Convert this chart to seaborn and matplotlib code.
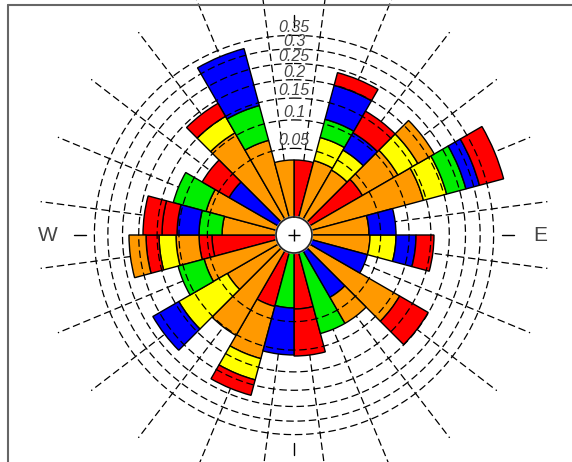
import numpy as np
import matplotlib
matplotlib.use("Agg")
import matplotlib.pyplot as plt
import seaborn as sns
from matplotlib.lines import Line2D
from matplotlib.patches import Circle

# ---------------- data ----------------
direction_deg = [0, 15, 30, 45, 60, 75, 90, 105, 120, 135, 150, 165,
                 180, 195, 210, 225, 240, 255, 270, 285, 300, 315, 330, 345]

ring_values = [0.05, 0.1, 0.15, 0.2, 0.25, 0.3, 0.35]
ring_labels = ["0.05", "0.1", "0.15", "0.2", "0.25", "0.3", "0.35"]
compass_labels = ["E", "W"]
compass_deg = [90, 270]
tick_deg = [0, 90, 180, 270]

# stacked classes (inner -> outer), one value per direction sector
red_a    = [0.0345, 0, 0, 0.0395, 0, 0, 0, 0, 0, 0, 0, 0.0333,
            0, 0.0333, 0, 0, 0, 0.0435, 0, 0, 0, 0, 0, 0]
red_b    = [0, 0, 0, 0, 0, 0, 0, 0, 0, 0, 0, 0.0793,
            0, 0, 0, 0, 0, 0.0194, 0, 0, 0, 0, 0, 0]
orange_a = [0, 0.037, 0.0345, 0.0709, 0.1428, 0.0345, 0.0357, 0, 0.1148, 0, 0, 0,
            0, 0.0951, 0.1019, 0.0369, 0.0597, 0.0432, 0.0309, 0.0565, 0, 0.1061, 0.0679, 0.0345]
yellow   = [0, 0.036, 0.0334, 0.0554, 0.0652, 0, 0.0392, 0, 0, 0, 0, 0,
            0, 0.0565, 0, 0.1034, 0, 0.0391, 0, 0, 0, 0.0442, 0, 0]
green    = [0, 0.037, 0, 0, 0.0636, 0, 0, 0, 0, 0, 0.0749, 0,
            0.0321, 0, 0, 0, 0.0507, 0, 0.032, 0.065, 0, 0, 0.0749, 0]
blue     = [0, 0.089, 0.0382, 0, 0.0496, 0.0404, 0.0399, 0.0357, 0, 0.0309, 0, 0,
            0.0783, 0, 0, 0.0828, 0, 0, 0.0411, 0, 0.0345, 0, 0.1821, 0]
red_c    = [0, 0.040, 0.0597, 0, 0.099, 0, 0.0431, 0, 0.0843, 0, 0, 0,
            0, 0.0475, 0, 0, 0, 0.0341, 0.0339, 0, 0.0477, 0.0402, 0, 0]
red_d    = [0, 0, 0, 0, 0, 0, 0, 0, 0, 0, 0, 0,
            0, 0, 0, 0, 0, 0, 0.0498, 0, 0, 0, 0, 0]
orange_b = [0, 0, 0, 0.0542, 0, 0, 0, 0, 0, 0.044, 0, 0,
            0, 0, 0, 0, 0, 0.05, 0, 0, 0, 0, 0, 0]

class_series = [red_a, red_b, orange_a, yellow, green, blue, red_c, red_d, orange_b]
class_colors = ["#FF0000", "#FF0000", "#FF9900", "#FFFF00", "#00EE00",
                "#0000FF", "#FF0000", "#FF0000", "#FF9900"]

# ---------------- style ----------------
sns.set_theme(style="white")
plt.rcParams["font.family"] = ["Liberation Sans", "DejaVu Sans"]

R_MAX = 0.6        # outer radial limit (spokes run to here)
HOLE = 18 / 307    # centre hole, in sqrt units

def fwd(v):
    v = np.asarray(v, dtype=float)
    return np.sign(v) * np.sqrt(np.abs(v))

def inv(u):
    u = np.asarray(u, dtype=float)
    return np.sign(u) * u ** 2

W, H = 572, 462
fig = plt.figure(figsize=(W / 100, H / 100), dpi=100)
fig.patch.set_facecolor("white")

cx, cy = 294, 235
R_px = 307 * (np.sqrt(R_MAX) + HOLE)
ax = fig.add_axes([(cx - R_px) / W, (H - cy - R_px) / H, 2 * R_px / W, 2 * R_px / H],
                  projection="polar")
ax.set_theta_zero_location("N")
ax.set_theta_direction(-1)
ax.set_rscale("function", functions=(fwd, inv))
ax.patch.set_alpha(0)
for sp in ax.spines.values():
    sp.set_visible(False)

theta = np.deg2rad(direction_deg)
width = np.deg2rad(360 / len(direction_deg))
palette = sns.color_palette(class_colors)

# spokes (at sector centres, behind the bars)
for t in theta + width / 2:
    ax.plot([t, t], [0, R_MAX], color="black", lw=0.9, dashes=(6, 3), zorder=1)

# stacked bars
bottom = np.zeros(len(direction_deg))
for vals, col in zip(class_series, palette):
    vals = np.asarray(vals, dtype=float)
    m = vals > 0
    ax.bar(theta[m], vals[m], width=width, bottom=bottom[m], align="edge",
           color=col, edgecolor="black", linewidth=1.0, zorder=2)
    bottom += vals

# white centre hole (hides the inner bar edges)
hole_frac = 0.5 * HOLE / (np.sqrt(R_MAX) + HOLE)
ax.add_patch(Circle((0.5, 0.5), hole_frac * 1.06, transform=ax.transAxes,
                    facecolor="white", edgecolor="none", zorder=2.5, clip_on=False))

# rings (drawn over the bars)
th = np.linspace(0, 2 * np.pi, 721)
for v in ring_values:
    ax.plot(th, np.full_like(th, v), color="black", lw=0.9, dashes=(6, 3), zorder=3)

for v, lab in zip(ring_values, ring_labels):
    ax.text(0, v, lab, ha="center", va="bottom", fontsize=11.5, style="italic",
            color="#444444", zorder=4)

# short cardinal ticks and compass labels
for d in tick_deg:
    t = np.deg2rad(d)
    ax.plot([t, t], [0.383, 0.433], color="black", lw=1.0, zorder=3, clip_on=False)
for d, lab in zip(compass_deg, compass_labels):
    ax.text(np.deg2rad(d), 0.5516, lab, ha="center", va="center", fontsize=15,
            color="#444444")

# centre cross
ax.plot([0], [-HOLE ** 2], marker="+", ms=8, mew=1.0, color="black", clip_on=False, zorder=5)

ax.set_xticks([])
ax.set_yticks([])
ax.grid(False)
ax.set_rlim(0, R_MAX)
ax.set_rorigin(-HOLE ** 2)

# figure frame (left and top edges visible)
fig.add_artist(Line2D([8 / W, 8 / W], [0, 1 - 5 / H], transform=fig.transFigure,
                      color="#666666", lw=1.5))
fig.add_artist(Line2D([8 / W, 1], [1 - 5 / H, 1 - 5 / H], transform=fig.transFigure,
                      color="#666666", lw=1.5))

fig.savefig("out.png", dpi=100, facecolor="white")
